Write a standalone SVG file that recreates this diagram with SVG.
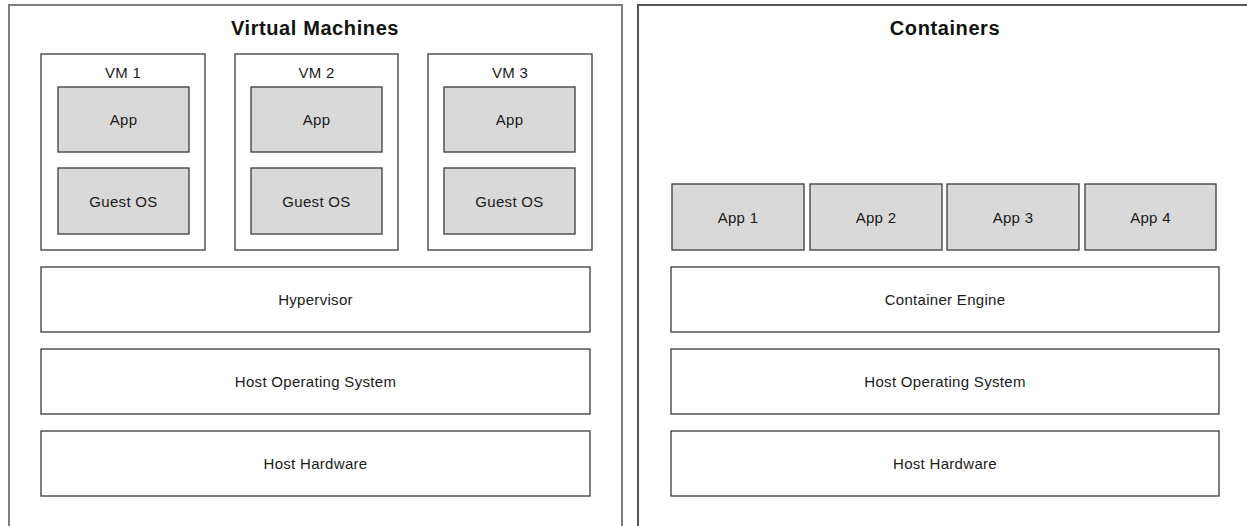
<svg xmlns="http://www.w3.org/2000/svg" width="1247" height="526" viewBox="0 0 1247 526">
  <style>
    .panel { fill: #ffffff; stroke: #7f7f7f; stroke-width: 2; }
    .box { fill: #ffffff; stroke: #3a3a3a; stroke-width: 1.3; }
    .gray { fill: #d9d9d9; stroke: #3a3a3a; stroke-width: 1.3; }
    .title { font-family: "Liberation Sans", Arial, sans-serif; font-size: 20px; font-weight: bold; letter-spacing: 0.6px; fill: #111; text-anchor: middle; }
    .lbl { font-family: "Liberation Sans", Arial, sans-serif; font-size: 15px; letter-spacing: 0.3px; fill: #1a1a1a; text-anchor: middle; dominant-baseline: central; }
  </style>
  <rect width="1247" height="526" fill="#ffffff"/>

  <!-- Virtual machine stack -->
  <g id="vm-panel">
    <path class="panel" d="M9,530 V5 H622 V530"/>
    <text class="title" x="315" y="35">Virtual Machines</text>
  </g>
  <g id="vm1">
    <rect class="box" x="41" y="54" width="164" height="196"/>
    <text class="lbl" x="123" y="72">VM 1</text>
  </g>
  <g id="vm1-app">
    <rect class="gray" x="58" y="87" width="131" height="65"/>
    <text class="lbl" x="123.5" y="119.5">App</text>
  </g>
  <g id="vm1-os">
    <rect class="gray" x="58" y="168" width="131" height="66"/>
    <text class="lbl" x="123.5" y="201">Guest OS</text>
  </g>
  <g id="vm2">
    <rect class="box" x="235" y="54" width="163" height="196"/>
    <text class="lbl" x="316.5" y="72">VM 2</text>
  </g>
  <g id="vm2-app">
    <rect class="gray" x="251" y="87" width="131" height="65"/>
    <text class="lbl" x="316.5" y="119.5">App</text>
  </g>
  <g id="vm2-os">
    <rect class="gray" x="251" y="168" width="131" height="66"/>
    <text class="lbl" x="316.5" y="201">Guest OS</text>
  </g>
  <g id="vm3">
    <rect class="box" x="428" y="54" width="164" height="196"/>
    <text class="lbl" x="510" y="72">VM 3</text>
  </g>
  <g id="vm3-app">
    <rect class="gray" x="444" y="87" width="131" height="65"/>
    <text class="lbl" x="509.5" y="119.5">App</text>
  </g>
  <g id="vm3-os">
    <rect class="gray" x="444" y="168" width="131" height="66"/>
    <text class="lbl" x="509.5" y="201">Guest OS</text>
  </g>
  <g id="hypervisor">
    <rect class="box" x="41" y="267" width="549" height="65"/>
    <text class="lbl" x="315.5" y="299.5">Hypervisor</text>
  </g>
  <g id="vm-host-os">
    <rect class="box" x="41" y="349" width="549" height="65"/>
    <text class="lbl" x="315.5" y="381.5">Host Operating System</text>
  </g>
  <g id="vm-host-hw">
    <rect class="box" x="41" y="431" width="549" height="65"/>
    <text class="lbl" x="315.5" y="463.5">Host Hardware</text>
  </g>

  <!-- Container stack -->
  <g id="ct-panel">
    <path class="panel" d="M638,530 V5 H1250" style="stroke:#555"/>
    <text class="title" x="945" y="35">Containers</text>
  </g>
  <g id="app1">
    <rect class="gray" x="672" y="184" width="132" height="66"/>
    <text class="lbl" x="738" y="217">App 1</text>
  </g>
  <g id="app2">
    <rect class="gray" x="810" y="184" width="132" height="66"/>
    <text class="lbl" x="876" y="217">App 2</text>
  </g>
  <g id="app3">
    <rect class="gray" x="947" y="184" width="132" height="66"/>
    <text class="lbl" x="1013" y="217">App 3</text>
  </g>
  <g id="app4">
    <rect class="gray" x="1085" y="184" width="131" height="66"/>
    <text class="lbl" x="1150.5" y="217">App 4</text>
  </g>
  <g id="engine">
    <rect class="box" x="671" y="267" width="548" height="65"/>
    <text class="lbl" x="945" y="299.5">Container Engine</text>
  </g>
  <g id="ct-host-os">
    <rect class="box" x="671" y="349" width="548" height="65"/>
    <text class="lbl" x="945" y="381.5">Host Operating System</text>
  </g>
  <g id="ct-host-hw">
    <rect class="box" x="671" y="431" width="548" height="65"/>
    <text class="lbl" x="945" y="463.5">Host Hardware</text>
  </g>

  <g id="connectors"/>
</svg>
